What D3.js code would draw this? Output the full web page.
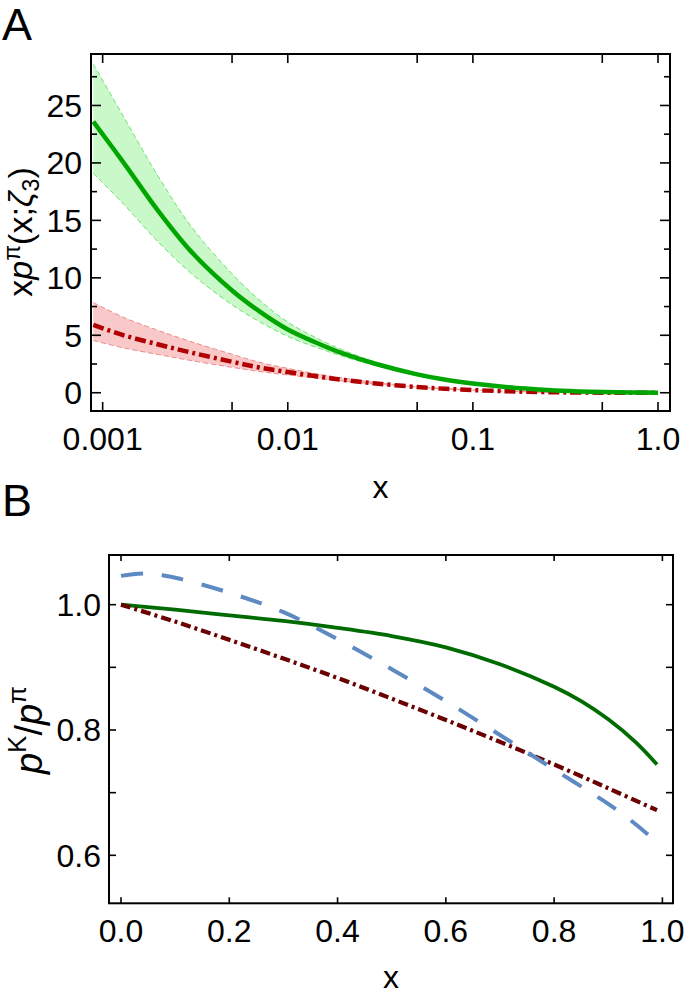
<!DOCTYPE html>
<html><head><meta charset="utf-8">
<script src="https://cdn.jsdelivr.net/npm/d3@7"></script>
<style>
body{margin:0;background:#fff;}
svg text{font-family:"Liberation Sans",Arial,sans-serif;fill:#000;}
</style></head>
<body><svg id="c" width="685" height="994"></svg>
<script>
// ---------- Panel A data ----------
const aX      = [0.00089,0.0013,0.002,0.003,0.005,0.007,0.01,0.015,0.02,0.03,0.05,0.07,0.1,0.15,0.2,0.3,0.5,0.7,1.0];
const aGreen  = [23.6,20.0,15.8,12.3,8.9,7.1,5.5,4.2,3.4,2.5,1.6,1.15,0.8,0.5,0.35,0.18,0.06,0.02,0];
const aGreenHi= [28.6,24.0,18.8,14.5,10.35,8.1,6.15,4.6,3.69,2.66,1.67,1.18,0.82,0.505,0.352,0.18,0.06,0.02,0];
const aGreenLo= [19.1,16.4,13.1,10.4,7.65,6.2,4.9,3.82,3.15,2.35,1.54,1.12,0.786,0.495,0.348,0.18,0.06,0.02,0];
const aRed    = [5.9,5.0,4.2,3.5,2.7,2.2,1.8,1.38,1.12,0.8,0.5,0.35,0.23,0.13,0.08,0.035,0.008,0.002,0];
const aRedHi  = [7.85,6.55,5.42,4.45,3.35,2.66,2.12,1.59,1.27,0.88,0.54,0.37,0.24,0.134,0.082,0.035,0.008,0.002,0];
const aRedLo  = [4.54,3.9,3.32,2.8,2.21,1.85,1.55,1.21,1.01,0.74,0.47,0.33,0.22,0.126,0.078,0.035,0.008,0.002,0];
const aXTicks = [0.001,0.01,0.1,1.0];
const aXTickLabels = ["0.001","0.01","0.1","1.0"];
const aXMinor = [0.005,0.05,0.5];
const aYTicks = [0,5,10,15,20,25];
const aYMinor = [2.5,7.5,12.5,17.5,22.5,27.5];

// ---------- Panel B data ----------
const bXg    = [0,0.1,0.2,0.3,0.4,0.5,0.6,0.7,0.8,0.85,0.9,0.95,0.99];
const bGreen = [1.0,0.992,0.983,0.974,0.963,0.950,0.932,0.905,0.869,0.846,0.817,0.781,0.745];
const bXr    = [0,0.1,0.2,0.3,0.4,0.5,0.6,0.7,0.8,0.9,0.99];
const bRed   = [1.0,0.973,0.944,0.914,0.883,0.850,0.816,0.781,0.745,0.707,0.672];
const bXb    = [0,0.05,0.1,0.2,0.3,0.4,0.5,0.6,0.7,0.8,0.9,0.95,1.0];
const bBlue  = [1.046,1.050,1.043,1.019,0.988,0.945,0.897,0.846,0.792,0.737,0.682,0.650,0.613];
const bXTicks = [0,0.2,0.4,0.6,0.8,1.0];
const bYTicks = [0.6,0.8,1.0];
const bYMinor = [0.7,0.9];

const svg = d3.select("#c");
const smooth = d3.curveCatmullRom.alpha(0.5);

// ---------- Panel A ----------
const A = {l:91,r:670,t:54,b:411};
const xA = d3.scaleLog().domain([Math.pow(10,-3.063),Math.pow(10,0.0648)]).range([A.l,A.r]);
const yA = d3.scaleLinear().domain([-1.59,29.48]).range([A.b,A.t]);
const gA = svg.append("g");
gA.append("clipPath").attr("id","clipA").append("rect").attr("x",A.l).attr("y",A.t).attr("width",A.r-A.l).attr("height",A.b-A.t);
const plotA = gA.append("g").attr("clip-path","url(#clipA)");

function band(xs,lo,hi,fill,stroke){
  const area = d3.area().x((d,i)=>xA(xs[i])).y0((d,i)=>yA(lo[i])).y1((d,i)=>yA(hi[i])).curve(d3.curveMonotoneX);
  plotA.append("path").datum(xs).attr("d",area).attr("fill",fill).attr("stroke","none");
  [lo,hi].forEach(arr=>{
    const ln = d3.line().x((d,i)=>xA(xs[i])).y((d,i)=>yA(arr[i])).curve(smooth);
    plotA.append("path").datum(xs).attr("d",ln).attr("fill","none").attr("stroke",stroke).attr("stroke-width",1).attr("stroke-dasharray","5,3");
  });
}
band(aX,aGreenLo,aGreenHi,"#c9f8c9","#6fe06f");
band(aX,aRedLo,aRedHi,"#f9c8c8","#f08a8a");
const lnA = arr => d3.line().x((d,i)=>xA(aX[i])).y((d,i)=>yA(arr[i])).curve(smooth);
plotA.append("path").datum(aX).attr("d",lnA(aRed)).attr("fill","none").attr("stroke","#b00000").attr("stroke-width",4.5).attr("stroke-dasharray","11,4,3,4");
plotA.append("path").datum(aX).attr("d",lnA(aGreen)).attr("fill","none").attr("stroke","#00a600").attr("stroke-width",4.5);

function frame(g,P){
  g.append("rect").attr("x",P.l).attr("y",P.t).attr("width",P.r-P.l).attr("height",P.b-P.t).attr("fill","none").attr("stroke","#000").attr("stroke-width",2);
}
function xticks(g,P,sc,vals,len){
  vals.forEach(v=>{
    const x=sc(v);
    g.append("line").attr("x1",x).attr("x2",x).attr("y1",P.b).attr("y2",P.b-len).attr("stroke","#000").attr("stroke-width",1.6);
    g.append("line").attr("x1",x).attr("x2",x).attr("y1",P.t).attr("y2",P.t+len).attr("stroke","#000").attr("stroke-width",1.6);
  });
}
function yticks(g,P,sc,vals,len){
  vals.forEach(v=>{
    const y=sc(v);
    g.append("line").attr("y1",y).attr("y2",y).attr("x1",P.l).attr("x2",P.l+len).attr("stroke","#000").attr("stroke-width",1.6);
    g.append("line").attr("y1",y).attr("y2",y).attr("x1",P.r).attr("x2",P.r-len).attr("stroke","#000").attr("stroke-width",1.6);
  });
}
frame(gA,A);
xticks(gA,A,xA,aXTicks.concat(aXMinor),9);
yticks(gA,A,yA,aYTicks,10);
yticks(gA,A,yA,aYMinor,6);
aXTicks.forEach((v,i)=>gA.append("text").attr("x",xA(v)).attr("y",450).attr("text-anchor","middle").attr("font-size",32).text(aXTickLabels[i]));
aYTicks.forEach(v=>gA.append("text").attr("x",82).attr("y",yA(v)+11.5).attr("text-anchor","end").attr("font-size",32).text(v));
gA.append("text").attr("x",(A.l+A.r)/2).attr("y",498).attr("text-anchor","middle").attr("font-size",32).text("x");
svg.append("text").attr("x",2).attr("y",40).attr("font-size",45).text("A");
// y label A
const yla = svg.append("text").attr("transform","translate(32,232) rotate(-90)").attr("text-anchor","middle").attr("font-size",34);
yla.append("tspan").text("x");
yla.append("tspan").attr("font-style","italic").text("p");
yla.append("tspan").attr("font-size",23).attr("dy",-12).text("π");
yla.append("tspan").attr("dy",12).text("(x;");
yla.append("tspan").attr("font-style","italic").text("ζ");
yla.append("tspan").attr("font-size",23).attr("dy",7).text("3");
yla.append("tspan").attr("dy",-7).text(")");

// ---------- Panel B ----------
const B = {l:109,r:673,t:555,b:903.3};
const xB = d3.scaleLinear().domain([-0.0222,1.0196]).range([B.l,B.r]);
const yB = d3.scaleLinear().domain([0.5234,1.0793]).range([B.b,B.t]);
const gB = svg.append("g");
gB.append("clipPath").attr("id","clipB").append("rect").attr("x",B.l).attr("y",B.t).attr("width",B.r-B.l).attr("height",B.b-B.t);
const plotB = gB.append("g").attr("clip-path","url(#clipB)");
const lnB = (xs,ys)=>d3.line().x((d,i)=>xB(xs[i])).y((d,i)=>yB(ys[i])).curve(smooth)(xs);
plotB.append("path").attr("d",lnB(bXg,bGreen)).attr("fill","none").attr("stroke","#006b00").attr("stroke-width",3.8);
plotB.append("path").attr("d",lnB(bXr,bRed)).attr("fill","none").attr("stroke","#6a0000").attr("stroke-width",4.2).attr("stroke-dasharray","10,4,3,4");
plotB.append("path").attr("d",lnB(bXb,bBlue)).attr("fill","none").attr("stroke","#5e8ac2").attr("stroke-width",4).attr("stroke-dasharray","22,19");
frame(gB,B);
xticks(gB,B,xB,bXTicks,6);
yticks(gB,B,yB,bYTicks.concat(bYMinor),7);
bXTicks.forEach(v=>gB.append("text").attr("x",xB(v)).attr("y",942).attr("text-anchor","middle").attr("font-size",32).text(d3.format(".1f")(v)));
bYTicks.forEach(v=>gB.append("text").attr("x",101).attr("y",yB(v)+11.5).attr("text-anchor","end").attr("font-size",32).text(d3.format(".1f")(v)));
gB.append("text").attr("x",(B.l+B.r)/2).attr("y",988).attr("text-anchor","middle").attr("font-size",32).text("x");
svg.append("text").attr("x",2).attr("y",516).attr("font-size",45).text("B");
const ylb = svg.append("text").attr("transform","translate(42,730) rotate(-90)").attr("text-anchor","middle").attr("font-size",38);
ylb.append("tspan").attr("font-style","italic").text("p");
ylb.append("tspan").attr("font-size",26).attr("dy",-16).text("K");
ylb.append("tspan").attr("dy",16).text("/");
ylb.append("tspan").attr("font-style","italic").text("p");
ylb.append("tspan").attr("font-size",26).attr("dy",-16).text("π");
</script></body></html>
